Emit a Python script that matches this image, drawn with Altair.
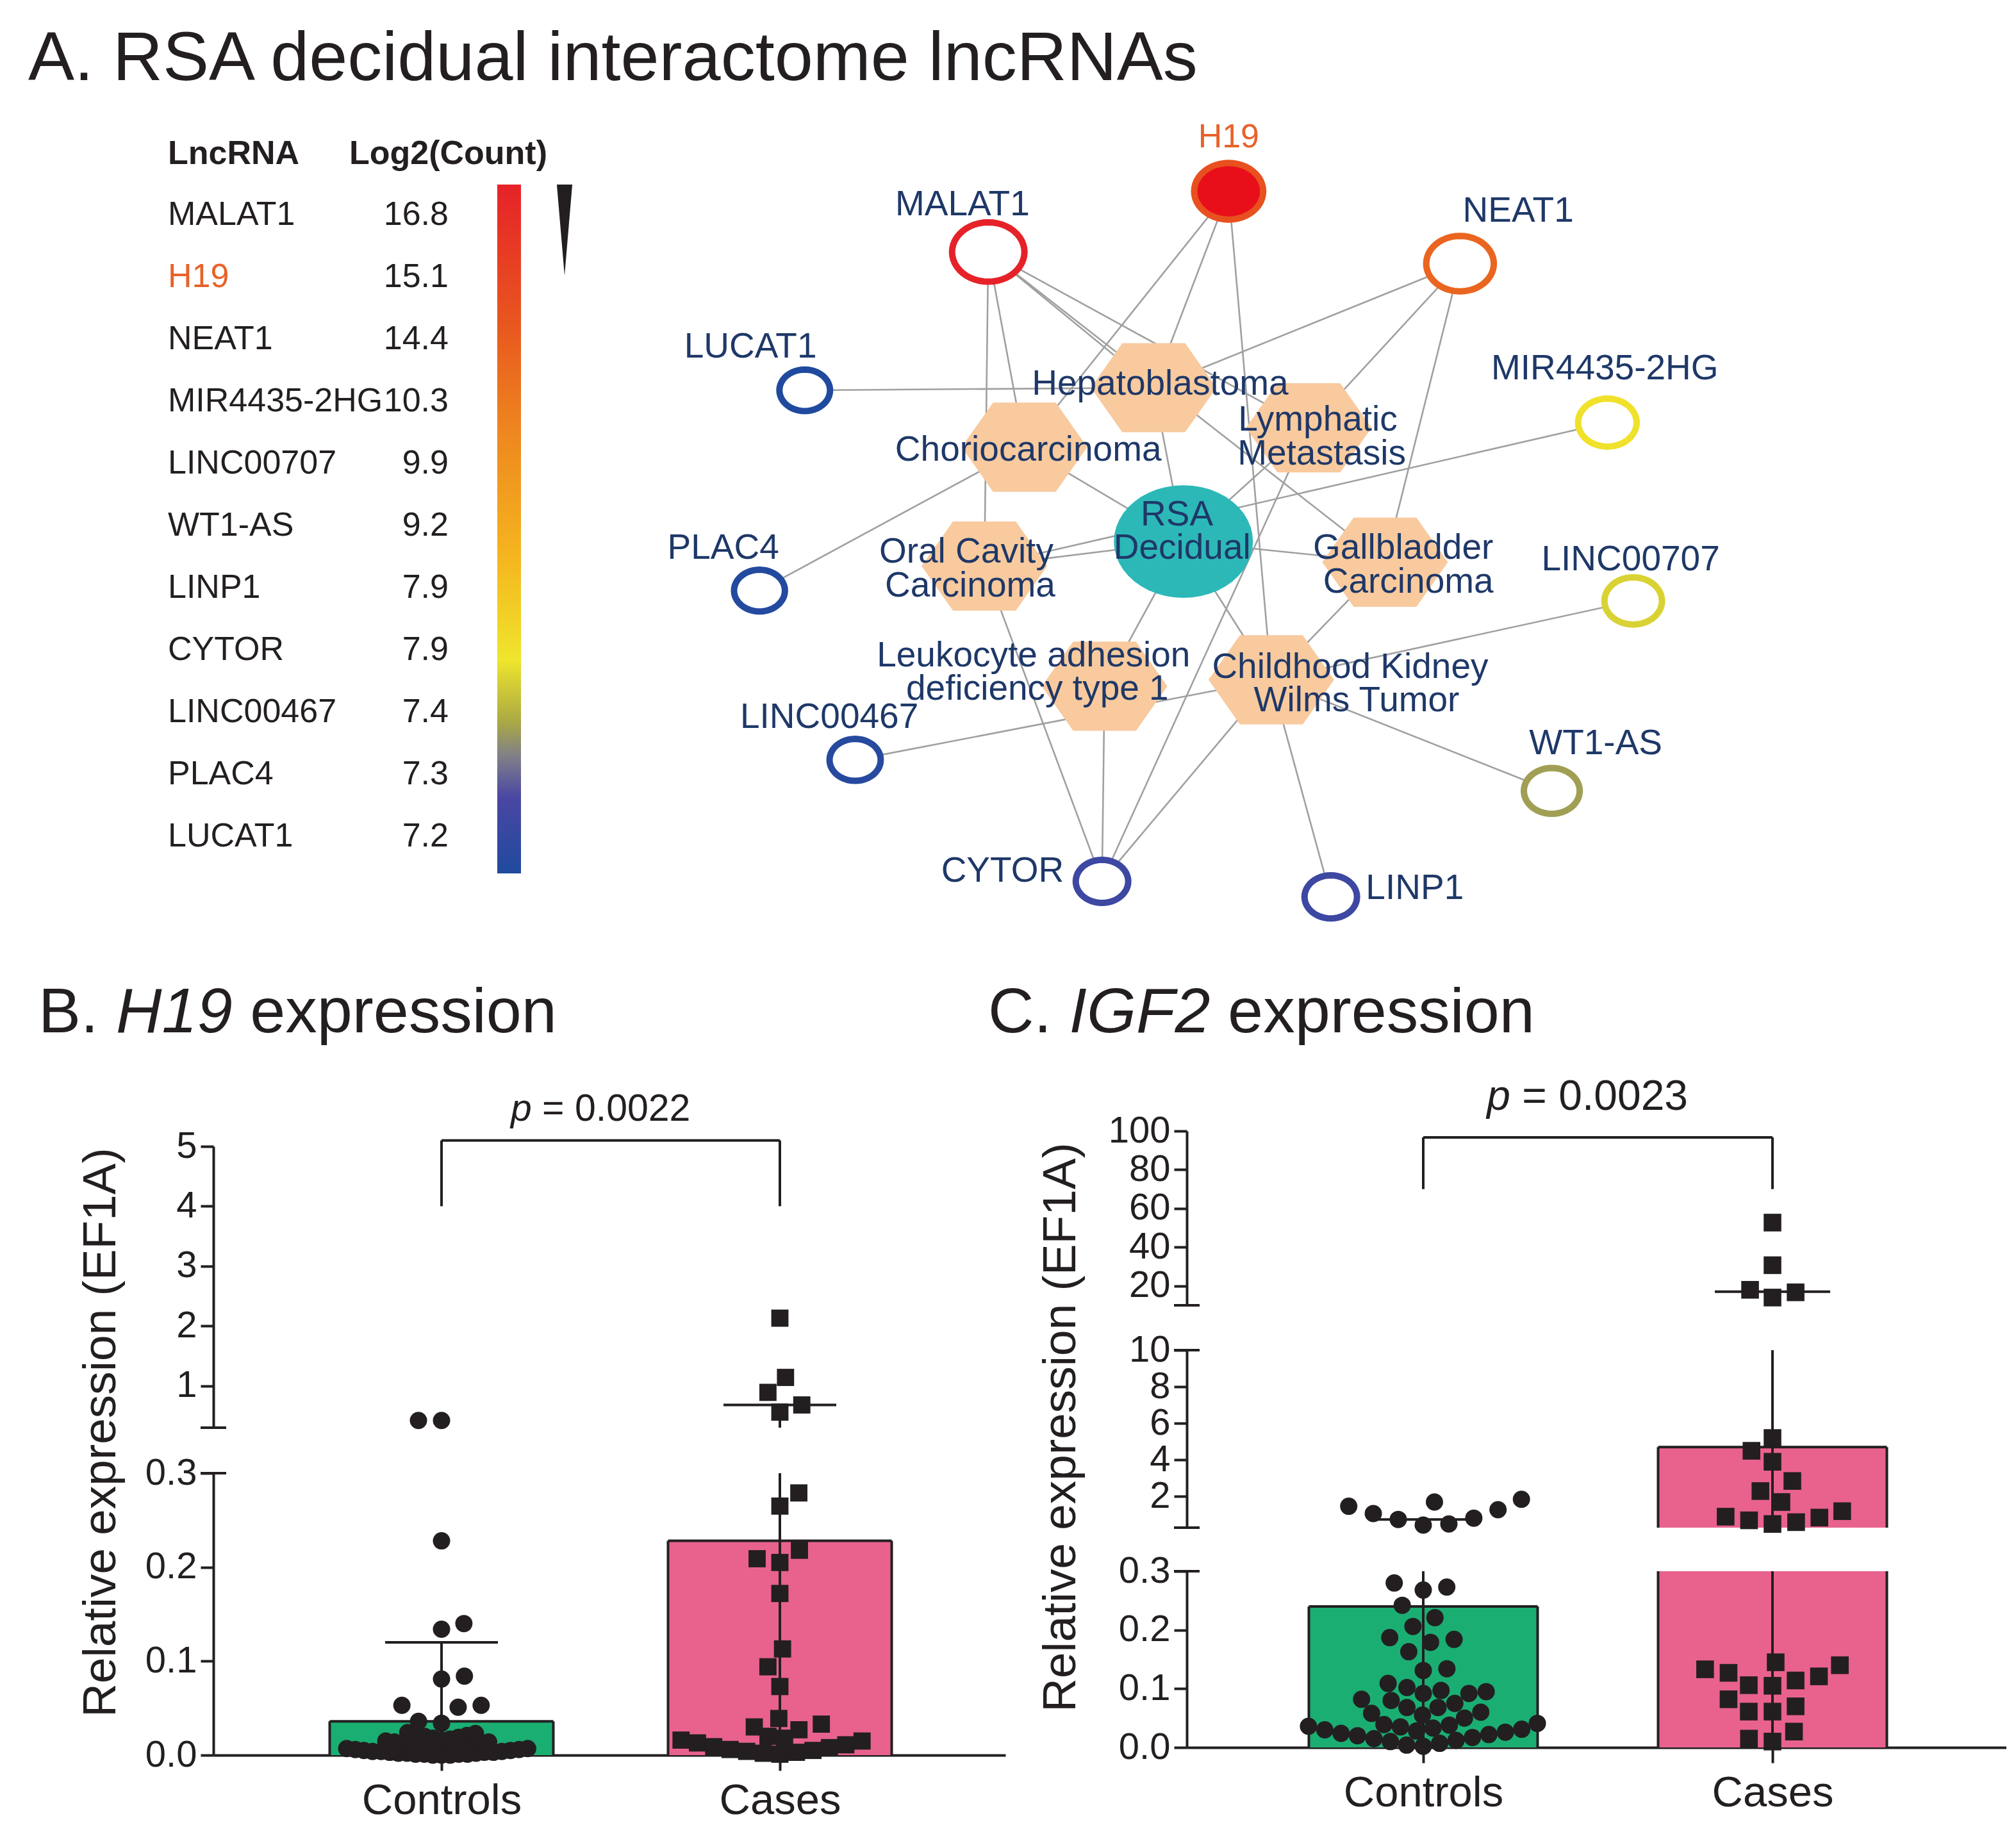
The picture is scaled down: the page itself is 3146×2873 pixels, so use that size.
import math
import altair as alt
import pandas as pd

# ---------------- fonts & colours ----------------
SANS = "Liberation Sans, Arial, sans-serif"
INK = "#231f20"
NAVY = "#1e3868"
H19_ORANGE = "#e8622a"
GREEN = "#1bae73"
PINK = "#e8628d"
PEACH = "#f8ca9e"
TEAL = "#2db8b8"
EDGE = "#a0a0a0"

# ================= Panel A data =================
lnc_names = ["MALAT1", "H19", "NEAT1", "MIR4435-2HG", "LINC00707", "WT1-AS",
             "LINP1", "CYTOR", "LINC00467", "PLAC4", "LUCAT1"]
lnc_log2 = [16.8, 15.1, 14.4, 10.3, 9.9, 9.2, 7.9, 7.9, 7.4, 7.3, 7.2]

# colour bar: fraction of bar height (from bottom) and colour
cb_offsets = [0.0, 0.11, 0.17, 0.22, 0.31, 0.46, 0.63, 0.80, 1.0]
cb_colors = ["#1f4a9e", "#4a47a3", "#807f88", "#aaa944", "#efe52c",
             "#f5b51f", "#ee8a1f", "#e8561f", "#e62229"]
cb_min, cb_max = 7.2, 16.8

# network layout coordinates (layout units)
lnc_x = [767, 953, 1132, 1246, 1266, 1203, 1032, 855, 664, 590, 625]
lnc_y = [197, 150, 206, 329, 467, 614, 696, 684, 590, 459, 304]
lnc_label_x = [747, 953, 1177, 1244, 1264, 1237, 1097, 778, 644, 562, 583]
lnc_label_y = [160, 108, 165, 287, 435, 577, 689, 676, 557, 426, 270]

disease_names = ["Hepatoblastoma", "Lymphatic Metastasis", "Choriocarcinoma",
                 "Oral Cavity Carcinoma", "Gallbladder Carcinoma",
                 "Leukocyte adhesion deficiency type 1", "Childhood Kidney Wilms Tumor"]
disease_x = [895, 1015, 795, 764, 1074, 857, 986]
disease_y = [302, 333, 348, 440, 437, 533, 528]
hub_name = "RSA Decidual"
hub_x, hub_y = 918, 421

label_lines = ["Hepatoblastoma", "Lymphatic", "Metastasis", "Choriocarcinoma",
               "Oral Cavity", "Carcinoma", "Gallbladder", "Carcinoma",
               "Leukocyte adhesion", "deficiency type 1", "Childhood Kidney",
               "Wilms Tumor", "RSA", "Decidual"]
label_x = [900, 1022, 1025, 798, 750, 753, 1088, 1092, 802, 805, 1047, 1052, 913, 917]
label_y = [299, 327, 353, 350, 429, 455, 426, 452, 509, 535, 518, 544, 400, 426]

edges = [
    ("MALAT1", "Choriocarcinoma"), ("MALAT1", "Oral Cavity Carcinoma"),
    ("MALAT1", "Hepatoblastoma"), ("MALAT1", "Lymphatic Metastasis"),
    ("MALAT1", "Gallbladder Carcinoma"),
    ("H19", "Choriocarcinoma"), ("H19", "Hepatoblastoma"),
    ("H19", "Childhood Kidney Wilms Tumor"),
    ("NEAT1", "Hepatoblastoma"), ("NEAT1", "Lymphatic Metastasis"),
    ("NEAT1", "Gallbladder Carcinoma"),
    ("LUCAT1", "Hepatoblastoma"),
    ("MIR4435-2HG", "Oral Cavity Carcinoma"),
    ("PLAC4", "Choriocarcinoma"),
    ("LINC00707", "Childhood Kidney Wilms Tumor"),
    ("LINC00467", "Childhood Kidney Wilms Tumor"),
    ("WT1-AS", "Childhood Kidney Wilms Tumor"),
    ("CYTOR", "Oral Cavity Carcinoma"), ("CYTOR", "Leukocyte adhesion deficiency type 1"),
    ("CYTOR", "Lymphatic Metastasis"), ("CYTOR", "Childhood Kidney Wilms Tumor"),
    ("LINP1", "Childhood Kidney Wilms Tumor"),
    ("Gallbladder Carcinoma", "Childhood Kidney Wilms Tumor"),
] + [(hub_name, d) for d in disease_names]

# ================= Panels B & C data =================
groups = ["Controls", "Cases"]

b_controls = [0.42, 0.42, 0.228, 0.14, 0.134, 0.084, 0.081, 0.053, 0.053, 0.051, 0.036, 0.034,
              0.024, 0.023, 0.022, 0.021, 0.020, 0.019, 0.018, 0.017, 0.016, 0.015, 0.014,
              0.014, 0.013, 0.012, 0.012, 0.011, 0.010, 0.010, 0.009, 0.009, 0.008, 0.008,
              0.007, 0.007, 0.006, 0.006, 0.005, 0.005, 0.004, 0.004, 0.004, 0.003, 0.003,
              0.003, 0.002, 0.002, 0.002, 0.001, 0.001, 0.001, 0.001, 0.000, 0.000, 0.000]
b_cases = [2.13, 1.14, 0.89, 0.68, 0.56, 0.279, 0.265, 0.218, 0.209, 0.205, 0.172, 0.113,
           0.094, 0.073, 0.039, 0.033, 0.030, 0.027,
           0.020, 0.018, 0.016, 0.015, 0.013, 0.011, 0.009, 0.008, 0.006, 0.005, 0.004,
           0.003, 0.002, 0.001]
b_bar_mean = [0.036, 0.228]
b_err_hi = [0.12, 0.68]
b_p = "= 0.0022"

c_controls = [1.85, 1.47, 1.07, 0.75, 0.44, 0.50, 0.82, 1.28, 1.70,
              0.280, 0.273, 0.268, 0.242, 0.221, 0.206, 0.187, 0.184, 0.179, 0.163, 0.134,
              0.131, 0.109,
              0.102, 0.097, 0.095, 0.092, 0.092, 0.082, 0.080, 0.075, 0.068, 0.068, 0.060,
              0.058, 0.055, 0.050,
              0.041, 0.039, 0.038, 0.036, 0.035, 0.033, 0.031, 0.030, 0.028, 0.026, 0.024,
              0.022, 0.020, 0.017, 0.015, 0.012, 0.010, 0.007, 0.004, 0.002]
c_cases = [52.7, 30.7, 18.0, 16.7, 14.0,
           5.2, 4.5, 3.9, 2.85, 2.3, 1.7, 1.2, 0.9, 0.6, 0.5, 0.7, 0.85,
           0.145, 0.140, 0.133, 0.127, 0.121, 0.114, 0.106, 0.105, 0.082, 0.070, 0.061,
           0.061, 0.027, 0.015, 0.010]
c_bar_mean = [0.24, 4.7]
c_err_hi = [0.75, 17.0]
c_p = "= 0.0023"

ONE = pd.DataFrame({"k": [0]})


# ================= helpers =================
def ellipse_path(ry, n=48):
    pts = []
    for i in range(n):
        t = 2 * math.pi * i / n
        pts.append(f"{math.cos(t):.4f},{ry * math.sin(t):.4f}")
    return "M" + "L".join(pts) + "Z"


HEX = "M-1,0L-0.5,-0.71L0.5,-0.71L1,0L0.5,0.71L-0.5,0.71Z"
RING = ellipse_path(0.82)
HUB = ellipse_path(0.81)
WEDGE = "M-0.17,-1L0.17,-1L0,1Z"

color_scale = alt.Scale(domain=[cb_min + o * (cb_max - cb_min) for o in cb_offsets],
                        range=cb_colors, interpolate="rgb")

# ================= Panel A: table + colour bar =================
TFS = 52
table_df = pd.DataFrame({"name": lnc_names, "log2": lnc_log2})
row_y = alt.Y("name:N", sort=lnc_names,
              scale=alt.Scale(type="point", domain=lnc_names, range=[159, 1129], padding=0),
              axis=None)
name_color = alt.condition("datum.name === 'H19'", alt.value(H19_ORANGE), alt.value(INK))

titleA = alt.Chart(ONE).mark_text(
    text="A. RSA decidual interactome lncRNAs", align="left", baseline="alphabetic",
    font=SANS, fontSize=108, color=INK).encode(x=alt.value(-289), y=alt.value(-51))
head1 = alt.Chart(ONE).mark_text(text="LncRNA", align="left", baseline="middle", font=SANS,
                                 fontSize=TFS, fontWeight="bold", color=INK).encode(
    x=alt.value(-71), y=alt.value(64))
head2 = alt.Chart(ONE).mark_text(text="Log2(Count)", align="left", baseline="middle",
                                 font=SANS, fontSize=TFS, fontWeight="bold", color=INK).encode(
    x=alt.value(212), y=alt.value(64))
names_layer = alt.Chart(table_df).mark_text(align="left", baseline="middle", font=SANS,
                                            fontSize=TFS).encode(
    x=alt.value(-71), y=row_y, text="name:N", color=name_color)
vals_layer = alt.Chart(table_df).mark_text(align="right", baseline="middle", font=SANS,
                                           fontSize=TFS, color=INK).encode(
    x=alt.value(367), y=row_y, text=alt.Text("log2:Q", format=".1f"))
gradient = alt.LinearGradient(
    gradient="linear", x1=0, x2=0, y1=1, y2=0,
    stops=[alt.GradientStop(offset=o, color=c) for o, c in zip(cb_offsets, cb_colors)])
cbar = alt.Chart(ONE).mark_rect(color=gradient).encode(
    x=alt.value(443), x2=alt.value(480), y=alt.value(112), y2=alt.value(1187))
wedge = alt.Chart(ONE).mark_point(shape=WEDGE, size=142 ** 2, filled=True, color=INK,
                                  opacity=1, strokeWidth=0).encode(
    x=alt.value(548), y=alt.value(183))

table_chart = alt.layer(titleA, head1, head2, names_layer, vals_layer, cbar, wedge).properties(
    width=428, height=1280)

# ================= Panel A: network =================
pos = {n: (x, y) for n, x, y in zip(lnc_names, lnc_x, lnc_y)}
pos.update({n: (x, y) for n, x, y in zip(disease_names, disease_x, disease_y)})
pos[hub_name] = (hub_x, hub_y)

edge_df = pd.DataFrame([{"x": pos[a][0], "y": pos[a][1], "x2": pos[b][0], "y2": pos[b][1]}
                        for a, b in edges])
lnc_df = pd.DataFrame({"name": lnc_names, "log2": lnc_log2, "x": lnc_x, "y": lnc_y})
dis_df = pd.DataFrame({"name": disease_names, "x": disease_x, "y": disease_y})
hub_df = pd.DataFrame({"name": [hub_name], "x": [hub_x], "y": [hub_y]})
lnc_lab_df = pd.DataFrame({"t": lnc_names, "x": lnc_label_x, "y": lnc_label_y})
dis_lab_df = pd.DataFrame({"t": label_lines, "x": label_x, "y": label_y})

# the network cell sits in the 2nd grid column; its drawing area begins
# 808 px to the left of that column start.
NXS = alt.Scale(domain=[520, 1345], range=[-808, 856], nice=False, zero=False)
NYS = alt.Scale(domain=[89.26, 723.95], nice=False, zero=False, reverse=True)


def nx(f):
    return alt.X(f, type="quantitative", scale=NXS, axis=None)


def ny(f):
    return alt.Y(f, type="quantitative", scale=NYS, axis=None)


edge_layer = alt.Chart(edge_df).mark_rule(color=EDGE, strokeWidth=2.6).encode(
    x=nx("x"), y=ny("y"), x2="x2:Q", y2="y2:Q")
hex_layer = alt.Chart(dis_df).mark_point(shape=HEX, size=196 ** 2, filled=True, color=PEACH,
                                         opacity=1, strokeWidth=0).encode(x=nx("x"), y=ny("y"))
hub_layer = alt.Chart(hub_df).mark_point(shape=HUB, size=217 ** 2, filled=True, color=TEAL,
                                         opacity=1, strokeWidth=0).encode(x=nx("x"), y=ny("y"))
ring_layer = alt.Chart(lnc_df).mark_point(shape=RING, filled=True, opacity=1,
                                          strokeWidth=10).encode(
    x=nx("x"), y=ny("y"),
    fill=alt.condition("datum.name === 'H19'", alt.value("#e80f1a"), alt.value("white")),
    stroke=alt.Stroke("log2:Q", scale=color_scale, legend=None),
    size=alt.Size("log2:Q", scale=alt.Scale(domain=[cb_min, cb_max], range=[6241, 12769]),
                  legend=None))
lab1 = alt.Chart(lnc_lab_df).transform_filter("datum.t !== 'H19'").mark_text(
    font=SANS, fontSize=55, color=NAVY, baseline="middle").encode(
    x=nx("x"), y=ny("y"), text="t:N")
lab_h19 = alt.Chart(lnc_lab_df).transform_filter("datum.t === 'H19'").mark_text(
    font=SANS, fontSize=52, color=H19_ORANGE, baseline="middle").encode(
    x=nx("x"), y=ny("y"), text="t:N")
lab2 = alt.Chart(dis_lab_df).mark_text(font=SANS, fontSize=55, color=NAVY,
                                       baseline="middle").encode(
    x=nx("x"), y=ny("y"), text="t:N")

net_chart = alt.layer(edge_layer, hex_layer, hub_layer, ring_layer, lab1, lab_h19, lab2).properties(
    width=856, height=1280)


# ================= Panels B & C =================
def beeswarm(values, to_px, dcol):
    order = sorted(range(len(values)), key=lambda i: values[i])
    placed, out = [], [0.0] * len(values)
    for k, i in enumerate(order):
        y = to_px(values[i])
        d = dcol(values[i])
        forb = []
        for px, py, pdc in placed:
            dm = min(d, pdc)
            dy = abs(py - y)
            if dy < dm:
                w = math.sqrt(dm * dm - dy * dy)
                forb.append((px - w, px + w))
        cands = [0.0] + [a for a, _ in forb] + [b for _, b in forb]
        valid = [c for c in cands if all(not (a + 1e-6 < c < b - 1e-6) for a, b in forb)]
        sgn = 1 if k % 2 == 0 else -1
        best = min(valid, key=lambda c: (round(abs(c), 2), -sgn * c))
        out[i] = best
        placed.append((best, y, d))
    return out


def make_to_px(segs):
    def f(v):
        for s in segs:
            if s["lo"] <= v <= s["hi"]:
                return s["top"] + (s["hi"] - v) / (s["hi"] - s["lo"]) * (s["bot"] - s["top"])
        return 0
    return f


def build_points(ctrl, case, segs, ppu, dc_ctrl, dc_case):
    to_px = make_to_px(segs)
    rows = []
    for gi, (g, vals, dc) in enumerate([("Controls", ctrl, dc_ctrl), ("Cases", case, dc_case)]):
        offs = beeswarm(vals, to_px, dc)
        for v, o in zip(vals, offs):
            rows.append({"group": g, "gi": gi, "value": v, "gx": gi + o / ppu})
    return pd.DataFrame(rows)


def seg_layer(P, k, xs, xaxis):
    s = P["segs"][k]
    lo, hi = s["lo"], s["hi"]
    first, last = k == 0, k == len(P["segs"]) - 1
    ys = alt.Scale(domain=[lo, hi], range=[s["bot"], s["top"]], nice=False, zero=False)
    ykw = dict(orient="left", values=s["ticks"], format=s["fmt"], labelFont=SANS,
               labelFontSize=58, labelColor=INK, labelPadding=6, labelOverlap=False,
               tickSize=20, tickWidth=4, tickColor=INK, domainWidth=4, domainColor=INK,
               grid=False)
    if last:
        ykw.update(title="Relative expression (EF1A)", titleFont=SANS, titleFontSize=73,
                   titleFontWeight="normal", titleColor=INK, titleAngle=270,
                   titleAlign="center", titleBaseline="middle",
                   titleX=P["ytitle_x"], titleY=P["ytitle_y"])
    else:
        ykw.update(title=None)
    yaxis = alt.Axis(**ykw)

    def X(f):
        return alt.X(f, type="quantitative", scale=xs, axis=xaxis)

    def Y(f):
        return alt.Y(f, type="quantitative", scale=ys, axis=yaxis)

    hw = P["half_bar"]
    bars = alt.Chart(P["bars"]).transform_calculate(
        xl=f"datum.gi - {hw}", xr=f"datum.gi + {hw}",
        cl="datum.gi - datum.cap", cr="datum.gi + datum.cap",
        yb=f"clamp(0, {lo}, {hi})", ym=f"clamp(datum.mean, {lo}, {hi})",
        yh=f"clamp(datum.errhi, {lo}, {hi})")
    layers = [
        bars.mark_rect(strokeWidth=0).encode(
            x=X("xl"), x2="xr:Q", y=Y("yb"), y2="ym:Q",
            fill=alt.Fill("group:N", scale=alt.Scale(domain=groups, range=[GREEN, PINK]),
                          legend=None)),
        bars.mark_rule(color=INK, strokeWidth=4).encode(x=X("xl"), y=Y("yb"), y2="ym:Q"),
        bars.mark_rule(color=INK, strokeWidth=4).encode(x=X("xr"), y=Y("yb"), y2="ym:Q"),
        bars.transform_filter(f"datum.mean >= {lo} && datum.mean <= {hi}").mark_rule(
            color=INK, strokeWidth=4).encode(x=X("xl"), x2="xr:Q", y=Y("mean")),
        bars.mark_rule(color=INK, strokeWidth=4).encode(x=X("gi"), y=Y("yb"), y2="yh:Q"),
        bars.transform_filter(f"datum.errhi >= {lo} && datum.errhi <= {hi}").mark_rule(
            color=INK, strokeWidth=4).encode(x=X("cl"), x2="cr:Q", y=Y("errhi")),
    ]
    pts = alt.Chart(P["pts"]).transform_filter(f"datum.value >= {lo} && datum.value <= {hi}")
    layers.append(pts.transform_filter("datum.group === 'Controls'").mark_point(
        shape="circle", size=P["dot_size"], filled=True, opacity=1, color=INK,
        strokeWidth=0).encode(x=X("gx"), y=Y("value")))
    layers.append(pts.transform_filter("datum.group === 'Cases'").mark_point(
        shape="square", size=P["sq_size"], filled=True, opacity=1, color=INK,
        strokeWidth=0).encode(x=X("gx"), y=Y("value")))
    # axis-break marks
    marks = []
    if not first:
        marks.append(hi)
    if not last:
        marks.append(lo)
    if marks:
        layers.append(alt.Chart(pd.DataFrame({"v": marks})).mark_rule(
            color=INK, strokeWidth=4).encode(x=alt.value(-20), x2=alt.value(20), y=Y("v")))
    if first:
        br = P["bracket"]
        layers.append(alt.Chart(pd.DataFrame({"a": [0], "b": [1], "t": [br[1]]})).mark_rule(
            color=INK, strokeWidth=4).encode(x=X("a"), x2="b:Q", y=Y("t")))
        layers.append(alt.Chart(pd.DataFrame({"a": [0, 1], "lo": [br[0]] * 2,
                                              "t": [br[1]] * 2})).mark_rule(
            color=INK, strokeWidth=4).encode(x=X("a"), y=Y("lo"), y2="t:Q"))
        fs = P["p_fs"]
        pdf = pd.DataFrame({"x": [P["p_x"]], "y": [P["p_y"]]})
        layers.append(alt.Chart(pdf).mark_text(
            text="p", font=SANS, fontStyle="italic", fontSize=fs, color=INK,
            align="right", baseline="alphabetic", dx=-1.821 * fs).encode(x=X("x"), y=Y("y")))
        layers.append(alt.Chart(pdf).mark_text(
            text=P["p_text"], font=SANS, fontSize=fs, color=INK,
            align="left", baseline="alphabetic", dx=-1.543 * fs).encode(x=X("x"), y=Y("y")))
    return alt.layer(*layers)


def panel_chart(P):
    xs = alt.Scale(domain=P["xdom"], nice=False, zero=False)
    xaxis = alt.Axis(values=[0, 1], labelExpr="datum.value < 0.5 ? 'Controls' : 'Cases'",
                     labelFont=SANS, labelFontSize=67, labelColor=INK, labelPadding=14,
                     labelLimit=0, labelFlush=False, tickSize=24, tickWidth=4, tickColor=INK,
                     domainWidth=4, domainColor=INK, grid=False, title=None, orient="bottom")
    size = 99
    tlayers = []
    for txt, style, off in P["title"]:
        tlayers.append(alt.Chart(ONE).mark_text(
            text=txt, align="left", baseline="alphabetic", font=SANS, fontSize=size,
            fontStyle=style, color=INK).encode(x=alt.value(P["title_x"] + off * size),
                                              y=alt.value(P["title_y"])))
    segs = [seg_layer(P, k, xs, xaxis) for k in range(len(P["segs"]))]
    return alt.layer(*tlayers, *segs).resolve_scale(y="independent").properties(
        width=P["width"], height=P["height"])


# ---- panel B ----
B_segs = [dict(lo=0.3, hi=5, top=24, bot=463, ticks=[1, 2, 3, 4, 5], fmt="d"),
          dict(lo=0.0, hi=0.3, top=534, bot=974, ticks=[0, 0.1, 0.2, 0.3], fmt=".1f")]
B_ppu = 528.0
B = dict(
    segs=B_segs, width=1236, height=974, xdom=[-356 / B_ppu, (1236 - 356) / B_ppu],
    half_bar=174.5 / B_ppu,
    bars=pd.DataFrame({"group": groups, "gi": [0, 1], "mean": b_bar_mean,
                       "errhi": b_err_hi, "cap": [88 / B_ppu, 88 / B_ppu]}),
    pts=build_points(b_controls, b_cases, B_segs, B_ppu,
                     lambda v: 13.5 if v < 0.026 else 36, lambda v: 26 if v < 0.021 else 36),
    dot_size=729, sq_size=720, bracket=(4.0, 5.1), p_x=0.47, p_y=5.43, p_fs=59,
    p_text=b_p, ytitle_x=-176, ytitle_y=470,
    title=[("B.", "normal", 0.0), ("H19", "italic", 1.223), ("expression", "normal", 3.335)],
    title_x=-273, title_y=-154)
# ---- panel C ----
C_segs = [dict(lo=10, hi=100, top=0, bot=272, ticks=[20, 40, 60, 80, 100], fmt="d"),
          dict(lo=0.3, hi=10, top=342, bot=619, ticks=[2, 4, 6, 8, 10], fmt="d"),
          dict(lo=0.0, hi=0.3, top=687, bot=962, ticks=[0, 0.1, 0.2, 0.3], fmt=".1f")]
C_ppu = 545.0
C = dict(
    segs=C_segs, width=1279, height=962, xdom=[-369 / C_ppu, (1279 - 369) / C_ppu],
    half_bar=178.5 / C_ppu,
    bars=pd.DataFrame({"group": groups, "gi": [0, 1], "mean": c_bar_mean,
                       "errhi": c_err_hi, "cap": [79 / C_ppu, 90 / C_ppu]}),
    pts=build_points(c_controls, c_cases, C_segs, C_ppu,
                     lambda v: 40 if v > 0.3 else (37 if v > 0.105 else (27 if v > 0.045 else 26)),
                     lambda v: 37),
    dot_size=729, sq_size=760, bracket=(70, 96.7), p_x=0.47, p_y=111, p_fs=66,
    p_text=c_p, ytitle_x=-197, ytitle_y=462,
    title=[("C.", "normal", 0.0), ("IGF2", "italic", 1.278), ("expression", "normal", 3.779)],
    title_x=-310, title_y=-154)

panelB = panel_chart(B)
panelC = panel_chart(C)

chart = alt.concat(table_chart, net_chart, panelB, panelC, columns=2,
                   spacing={"row": 309, "column": 240}, bounds="flush", align="all").properties(
    padding={"left": 36, "top": 31, "right": 0, "bottom": 0}
).configure_view(stroke=None)

chart.save("out.html", embed_options={"renderer": "svg", "actions": False})
